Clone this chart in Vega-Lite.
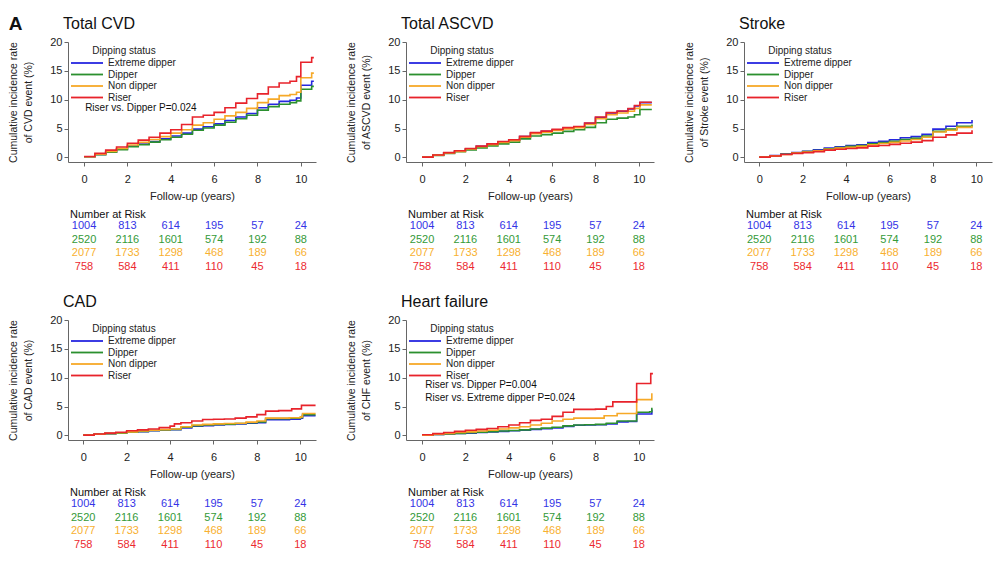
{
"$schema": "https://vega.github.io/schema/vega-lite/v6.json",
"padding": {"left": 8, "top": 15, "right": 2, "bottom": 2},
"title": {"text": "A", "fontSize": 19, "fontWeight": "bold", "anchor": "start", "frame": "bounds", "offset": -18, "dx": 0, "color": "#111"},
"bounds": "flush",
"columns": 3,
"spacing": {"row": 46, "column": 90},
"datasets": {
"curves": [
{"panel":"CVD","group":"Extreme dipper","t":0,"v":0.1},{"panel":"CVD","group":"Extreme dipper","t":0.5,"v":0.5},{"panel":"CVD","group":"Extreme dipper","t":1,"v":0.95},{"panel":"CVD","group":"Extreme dipper","t":1.5,"v":1.4},{"panel":"CVD","group":"Extreme dipper","t":2,"v":1.95},{"panel":"CVD","group":"Extreme dipper","t":2.5,"v":2.3},{"panel":"CVD","group":"Extreme dipper","t":3,"v":2.75},{"panel":"CVD","group":"Extreme dipper","t":3.5,"v":3.2},{"panel":"CVD","group":"Extreme dipper","t":4,"v":3.7},{"panel":"CVD","group":"Extreme dipper","t":4.5,"v":4.2},{"panel":"CVD","group":"Extreme dipper","t":5,"v":4.9},{"panel":"CVD","group":"Extreme dipper","t":5.5,"v":5.3},{"panel":"CVD","group":"Extreme dipper","t":6,"v":5.8},{"panel":"CVD","group":"Extreme dipper","t":6.5,"v":6.4},{"panel":"CVD","group":"Extreme dipper","t":7,"v":7.0},{"panel":"CVD","group":"Extreme dipper","t":7.5,"v":7.6},{"panel":"CVD","group":"Extreme dipper","t":8,"v":8.6},{"panel":"CVD","group":"Extreme dipper","t":8.5,"v":9.2},{"panel":"CVD","group":"Extreme dipper","t":9,"v":9.7},{"panel":"CVD","group":"Extreme dipper","t":9.5,"v":9.9},{"panel":"CVD","group":"Extreme dipper","t":9.8,"v":10.3},{"panel":"CVD","group":"Extreme dipper","t":10,"v":12.5},{"panel":"CVD","group":"Extreme dipper","t":10.5,"v":13.2},{"panel":"CVD","group":"Extreme dipper","t":10.6,"v":13.2},
{"panel":"CVD","group":"Dipper","t":0,"v":0.1},{"panel":"CVD","group":"Dipper","t":0.5,"v":0.45},{"panel":"CVD","group":"Dipper","t":1,"v":0.9},{"panel":"CVD","group":"Dipper","t":1.5,"v":1.35},{"panel":"CVD","group":"Dipper","t":2,"v":1.85},{"panel":"CVD","group":"Dipper","t":2.5,"v":2.2},{"panel":"CVD","group":"Dipper","t":3,"v":2.65},{"panel":"CVD","group":"Dipper","t":3.5,"v":3.05},{"panel":"CVD","group":"Dipper","t":4,"v":3.5},{"panel":"CVD","group":"Dipper","t":4.5,"v":4.0},{"panel":"CVD","group":"Dipper","t":5,"v":4.7},{"panel":"CVD","group":"Dipper","t":5.5,"v":5.1},{"panel":"CVD","group":"Dipper","t":6,"v":5.6},{"panel":"CVD","group":"Dipper","t":6.5,"v":6.1},{"panel":"CVD","group":"Dipper","t":7,"v":6.7},{"panel":"CVD","group":"Dipper","t":7.5,"v":7.3},{"panel":"CVD","group":"Dipper","t":8,"v":8.2},{"panel":"CVD","group":"Dipper","t":8.5,"v":8.8},{"panel":"CVD","group":"Dipper","t":9,"v":9.2},{"panel":"CVD","group":"Dipper","t":9.5,"v":9.5},{"panel":"CVD","group":"Dipper","t":9.8,"v":9.8},{"panel":"CVD","group":"Dipper","t":10,"v":11.8},{"panel":"CVD","group":"Dipper","t":10.5,"v":12.3},{"panel":"CVD","group":"Dipper","t":10.6,"v":12.3},
{"panel":"CVD","group":"Non dipper","t":0,"v":0.1},{"panel":"CVD","group":"Non dipper","t":0.5,"v":0.55},{"panel":"CVD","group":"Non dipper","t":1,"v":1.05},{"panel":"CVD","group":"Non dipper","t":1.5,"v":1.55},{"panel":"CVD","group":"Non dipper","t":2,"v":2.15},{"panel":"CVD","group":"Non dipper","t":2.5,"v":2.6},{"panel":"CVD","group":"Non dipper","t":3,"v":3.1},{"panel":"CVD","group":"Non dipper","t":3.5,"v":3.6},{"panel":"CVD","group":"Non dipper","t":4,"v":4.2},{"panel":"CVD","group":"Non dipper","t":4.5,"v":4.8},{"panel":"CVD","group":"Non dipper","t":5,"v":5.6},{"panel":"CVD","group":"Non dipper","t":5.5,"v":6.0},{"panel":"CVD","group":"Non dipper","t":6,"v":6.6},{"panel":"CVD","group":"Non dipper","t":6.5,"v":7.2},{"panel":"CVD","group":"Non dipper","t":7,"v":7.8},{"panel":"CVD","group":"Non dipper","t":7.5,"v":8.5},{"panel":"CVD","group":"Non dipper","t":8,"v":9.5},{"panel":"CVD","group":"Non dipper","t":8.5,"v":10.1},{"panel":"CVD","group":"Non dipper","t":9,"v":10.7},{"panel":"CVD","group":"Non dipper","t":9.5,"v":10.9},{"panel":"CVD","group":"Non dipper","t":9.8,"v":11.3},{"panel":"CVD","group":"Non dipper","t":10,"v":13.8},{"panel":"CVD","group":"Non dipper","t":10.5,"v":14.6},{"panel":"CVD","group":"Non dipper","t":10.6,"v":14.6},
{"panel":"CVD","group":"Riser","t":0,"v":0.15},{"panel":"CVD","group":"Riser","t":0.5,"v":0.7},{"panel":"CVD","group":"Riser","t":1,"v":1.25},{"panel":"CVD","group":"Riser","t":1.5,"v":1.8},{"panel":"CVD","group":"Riser","t":2,"v":2.45},{"panel":"CVD","group":"Riser","t":2.5,"v":3.0},{"panel":"CVD","group":"Riser","t":3,"v":3.5},{"panel":"CVD","group":"Riser","t":3.5,"v":4.2},{"panel":"CVD","group":"Riser","t":4,"v":4.8},{"panel":"CVD","group":"Riser","t":4.5,"v":5.7},{"panel":"CVD","group":"Riser","t":5,"v":7.0},{"panel":"CVD","group":"Riser","t":5.5,"v":7.3},{"panel":"CVD","group":"Riser","t":6,"v":7.8},{"panel":"CVD","group":"Riser","t":6.5,"v":8.6},{"panel":"CVD","group":"Riser","t":7,"v":9.4},{"panel":"CVD","group":"Riser","t":7.5,"v":10.2},{"panel":"CVD","group":"Riser","t":8,"v":11.0},{"panel":"CVD","group":"Riser","t":8.5,"v":12.2},{"panel":"CVD","group":"Riser","t":9,"v":12.9},{"panel":"CVD","group":"Riser","t":9.5,"v":13.2},{"panel":"CVD","group":"Riser","t":9.8,"v":14.0},{"panel":"CVD","group":"Riser","t":10,"v":16.5},{"panel":"CVD","group":"Riser","t":10.5,"v":17.3},{"panel":"CVD","group":"Riser","t":10.6,"v":17.3},
{"panel":"ASCVD","group":"Extreme dipper","t":0,"v":0.05},{"panel":"ASCVD","group":"Extreme dipper","t":0.5,"v":0.4},{"panel":"ASCVD","group":"Extreme dipper","t":1,"v":0.8},{"panel":"ASCVD","group":"Extreme dipper","t":1.5,"v":1.1},{"panel":"ASCVD","group":"Extreme dipper","t":2,"v":1.5},{"panel":"ASCVD","group":"Extreme dipper","t":2.5,"v":1.9},{"panel":"ASCVD","group":"Extreme dipper","t":3,"v":2.3},{"panel":"ASCVD","group":"Extreme dipper","t":3.5,"v":2.7},{"panel":"ASCVD","group":"Extreme dipper","t":4,"v":3.0},{"panel":"ASCVD","group":"Extreme dipper","t":4.5,"v":3.6},{"panel":"ASCVD","group":"Extreme dipper","t":5,"v":4.2},{"panel":"ASCVD","group":"Extreme dipper","t":5.5,"v":4.5},{"panel":"ASCVD","group":"Extreme dipper","t":6,"v":4.8},{"panel":"ASCVD","group":"Extreme dipper","t":6.5,"v":5.1},{"panel":"ASCVD","group":"Extreme dipper","t":7,"v":5.3},{"panel":"ASCVD","group":"Extreme dipper","t":7.5,"v":5.9},{"panel":"ASCVD","group":"Extreme dipper","t":8,"v":6.9},{"panel":"ASCVD","group":"Extreme dipper","t":8.5,"v":7.7},{"panel":"ASCVD","group":"Extreme dipper","t":9,"v":8.0},{"panel":"ASCVD","group":"Extreme dipper","t":9.5,"v":8.4},{"panel":"ASCVD","group":"Extreme dipper","t":9.8,"v":8.9},{"panel":"ASCVD","group":"Extreme dipper","t":10.05,"v":9.5},{"panel":"ASCVD","group":"Extreme dipper","t":10.6,"v":9.5},
{"panel":"ASCVD","group":"Dipper","t":0,"v":0.05},{"panel":"ASCVD","group":"Dipper","t":0.5,"v":0.35},{"panel":"ASCVD","group":"Dipper","t":1,"v":0.7},{"panel":"ASCVD","group":"Dipper","t":1.5,"v":1.0},{"panel":"ASCVD","group":"Dipper","t":2,"v":1.3},{"panel":"ASCVD","group":"Dipper","t":2.5,"v":1.65},{"panel":"ASCVD","group":"Dipper","t":3,"v":2.0},{"panel":"ASCVD","group":"Dipper","t":3.5,"v":2.35},{"panel":"ASCVD","group":"Dipper","t":4,"v":2.65},{"panel":"ASCVD","group":"Dipper","t":4.5,"v":3.2},{"panel":"ASCVD","group":"Dipper","t":5,"v":3.7},{"panel":"ASCVD","group":"Dipper","t":5.5,"v":3.95},{"panel":"ASCVD","group":"Dipper","t":6,"v":4.2},{"panel":"ASCVD","group":"Dipper","t":6.5,"v":4.5},{"panel":"ASCVD","group":"Dipper","t":7,"v":4.8},{"panel":"ASCVD","group":"Dipper","t":7.5,"v":5.2},{"panel":"ASCVD","group":"Dipper","t":8,"v":6.0},{"panel":"ASCVD","group":"Dipper","t":8.5,"v":6.6},{"panel":"ASCVD","group":"Dipper","t":9,"v":6.8},{"panel":"ASCVD","group":"Dipper","t":9.5,"v":7.0},{"panel":"ASCVD","group":"Dipper","t":9.8,"v":7.4},{"panel":"ASCVD","group":"Dipper","t":10.05,"v":8.3},{"panel":"ASCVD","group":"Dipper","t":10.6,"v":8.3},
{"panel":"ASCVD","group":"Non dipper","t":0,"v":0.05},{"panel":"ASCVD","group":"Non dipper","t":0.5,"v":0.4},{"panel":"ASCVD","group":"Non dipper","t":1,"v":0.75},{"panel":"ASCVD","group":"Non dipper","t":1.5,"v":1.05},{"panel":"ASCVD","group":"Non dipper","t":2,"v":1.45},{"panel":"ASCVD","group":"Non dipper","t":2.5,"v":1.85},{"panel":"ASCVD","group":"Non dipper","t":3,"v":2.2},{"panel":"ASCVD","group":"Non dipper","t":3.5,"v":2.6},{"panel":"ASCVD","group":"Non dipper","t":4,"v":2.9},{"panel":"ASCVD","group":"Non dipper","t":4.5,"v":3.5},{"panel":"ASCVD","group":"Non dipper","t":5,"v":4.1},{"panel":"ASCVD","group":"Non dipper","t":5.5,"v":4.35},{"panel":"ASCVD","group":"Non dipper","t":6,"v":4.65},{"panel":"ASCVD","group":"Non dipper","t":6.5,"v":4.95},{"panel":"ASCVD","group":"Non dipper","t":7,"v":5.15},{"panel":"ASCVD","group":"Non dipper","t":7.5,"v":5.7},{"panel":"ASCVD","group":"Non dipper","t":8,"v":6.7},{"panel":"ASCVD","group":"Non dipper","t":8.5,"v":7.4},{"panel":"ASCVD","group":"Non dipper","t":9,"v":7.7},{"panel":"ASCVD","group":"Non dipper","t":9.5,"v":8.0},{"panel":"ASCVD","group":"Non dipper","t":9.8,"v":8.5},{"panel":"ASCVD","group":"Non dipper","t":10.05,"v":9.1},{"panel":"ASCVD","group":"Non dipper","t":10.6,"v":9.1},
{"panel":"ASCVD","group":"Riser","t":0,"v":0.05},{"panel":"ASCVD","group":"Riser","t":0.5,"v":0.42},{"panel":"ASCVD","group":"Riser","t":1,"v":0.82},{"panel":"ASCVD","group":"Riser","t":1.5,"v":1.15},{"panel":"ASCVD","group":"Riser","t":2,"v":1.55},{"panel":"ASCVD","group":"Riser","t":2.5,"v":1.95},{"panel":"ASCVD","group":"Riser","t":3,"v":2.35},{"panel":"ASCVD","group":"Riser","t":3.5,"v":2.75},{"panel":"ASCVD","group":"Riser","t":4,"v":3.05},{"panel":"ASCVD","group":"Riser","t":4.5,"v":3.65},{"panel":"ASCVD","group":"Riser","t":5,"v":4.3},{"panel":"ASCVD","group":"Riser","t":5.5,"v":4.55},{"panel":"ASCVD","group":"Riser","t":6,"v":4.85},{"panel":"ASCVD","group":"Riser","t":6.5,"v":5.15},{"panel":"ASCVD","group":"Riser","t":7,"v":5.35},{"panel":"ASCVD","group":"Riser","t":7.5,"v":5.95},{"panel":"ASCVD","group":"Riser","t":8,"v":7.0},{"panel":"ASCVD","group":"Riser","t":8.5,"v":7.75},{"panel":"ASCVD","group":"Riser","t":9,"v":8.05},{"panel":"ASCVD","group":"Riser","t":9.5,"v":8.45},{"panel":"ASCVD","group":"Riser","t":9.8,"v":9.0},{"panel":"ASCVD","group":"Riser","t":10.05,"v":9.55},{"panel":"ASCVD","group":"Riser","t":10.6,"v":9.55},
{"panel":"Stroke","group":"Extreme dipper","t":0,"v":0.05},{"panel":"Stroke","group":"Extreme dipper","t":0.5,"v":0.3},{"panel":"Stroke","group":"Extreme dipper","t":1,"v":0.6},{"panel":"Stroke","group":"Extreme dipper","t":1.5,"v":0.85},{"panel":"Stroke","group":"Extreme dipper","t":2,"v":1.05},{"panel":"Stroke","group":"Extreme dipper","t":2.5,"v":1.3},{"panel":"Stroke","group":"Extreme dipper","t":3,"v":1.6},{"panel":"Stroke","group":"Extreme dipper","t":3.5,"v":1.85},{"panel":"Stroke","group":"Extreme dipper","t":4,"v":2.05},{"panel":"Stroke","group":"Extreme dipper","t":4.5,"v":2.2},{"panel":"Stroke","group":"Extreme dipper","t":5,"v":2.55},{"panel":"Stroke","group":"Extreme dipper","t":5.5,"v":2.8},{"panel":"Stroke","group":"Extreme dipper","t":6,"v":3.05},{"panel":"Stroke","group":"Extreme dipper","t":6.5,"v":3.4},{"panel":"Stroke","group":"Extreme dipper","t":7,"v":3.6},{"panel":"Stroke","group":"Extreme dipper","t":7.5,"v":4.0},{"panel":"Stroke","group":"Extreme dipper","t":8,"v":4.9},{"panel":"Stroke","group":"Extreme dipper","t":8.6,"v":5.4},{"panel":"Stroke","group":"Extreme dipper","t":9.1,"v":6.0},{"panel":"Stroke","group":"Extreme dipper","t":9.8,"v":6.5},
{"panel":"Stroke","group":"Dipper","t":0,"v":0.05},{"panel":"Stroke","group":"Dipper","t":0.5,"v":0.28},{"panel":"Stroke","group":"Dipper","t":1,"v":0.55},{"panel":"Stroke","group":"Dipper","t":1.5,"v":0.8},{"panel":"Stroke","group":"Dipper","t":2,"v":1.0},{"panel":"Stroke","group":"Dipper","t":2.5,"v":1.2},{"panel":"Stroke","group":"Dipper","t":3,"v":1.5},{"panel":"Stroke","group":"Dipper","t":3.5,"v":1.7},{"panel":"Stroke","group":"Dipper","t":4,"v":1.9},{"panel":"Stroke","group":"Dipper","t":4.5,"v":2.05},{"panel":"Stroke","group":"Dipper","t":5,"v":2.35},{"panel":"Stroke","group":"Dipper","t":5.5,"v":2.55},{"panel":"Stroke","group":"Dipper","t":6,"v":2.8},{"panel":"Stroke","group":"Dipper","t":6.5,"v":3.1},{"panel":"Stroke","group":"Dipper","t":7,"v":3.3},{"panel":"Stroke","group":"Dipper","t":7.5,"v":3.7},{"panel":"Stroke","group":"Dipper","t":8,"v":4.5},{"panel":"Stroke","group":"Dipper","t":8.6,"v":4.9},{"panel":"Stroke","group":"Dipper","t":9.1,"v":5.4},{"panel":"Stroke","group":"Dipper","t":9.8,"v":5.7},
{"panel":"Stroke","group":"Non dipper","t":0,"v":0.05},{"panel":"Stroke","group":"Non dipper","t":0.5,"v":0.27},{"panel":"Stroke","group":"Non dipper","t":1,"v":0.5},{"panel":"Stroke","group":"Non dipper","t":1.5,"v":0.75},{"panel":"Stroke","group":"Non dipper","t":2,"v":0.92},{"panel":"Stroke","group":"Non dipper","t":2.5,"v":1.12},{"panel":"Stroke","group":"Non dipper","t":3,"v":1.4},{"panel":"Stroke","group":"Non dipper","t":3.5,"v":1.6},{"panel":"Stroke","group":"Non dipper","t":4,"v":1.75},{"panel":"Stroke","group":"Non dipper","t":4.5,"v":1.9},{"panel":"Stroke","group":"Non dipper","t":5,"v":2.2},{"panel":"Stroke","group":"Non dipper","t":5.5,"v":2.4},{"panel":"Stroke","group":"Non dipper","t":6,"v":2.6},{"panel":"Stroke","group":"Non dipper","t":6.5,"v":2.85},{"panel":"Stroke","group":"Non dipper","t":7,"v":3.1},{"panel":"Stroke","group":"Non dipper","t":7.5,"v":3.5},{"panel":"Stroke","group":"Non dipper","t":8,"v":4.4},{"panel":"Stroke","group":"Non dipper","t":8.6,"v":4.7},{"panel":"Stroke","group":"Non dipper","t":9.1,"v":5.2},{"panel":"Stroke","group":"Non dipper","t":9.8,"v":5.5},
{"panel":"Stroke","group":"Riser","t":0,"v":0.05},{"panel":"Stroke","group":"Riser","t":0.5,"v":0.25},{"panel":"Stroke","group":"Riser","t":1,"v":0.5},{"panel":"Stroke","group":"Riser","t":1.5,"v":0.7},{"panel":"Stroke","group":"Riser","t":2,"v":0.82},{"panel":"Stroke","group":"Riser","t":2.5,"v":1.0},{"panel":"Stroke","group":"Riser","t":3,"v":1.25},{"panel":"Stroke","group":"Riser","t":3.5,"v":1.4},{"panel":"Stroke","group":"Riser","t":4,"v":1.55},{"panel":"Stroke","group":"Riser","t":4.5,"v":1.65},{"panel":"Stroke","group":"Riser","t":5,"v":1.95},{"panel":"Stroke","group":"Riser","t":5.5,"v":2.05},{"panel":"Stroke","group":"Riser","t":6,"v":2.25},{"panel":"Stroke","group":"Riser","t":6.5,"v":2.45},{"panel":"Stroke","group":"Riser","t":7,"v":2.65},{"panel":"Stroke","group":"Riser","t":7.5,"v":2.9},{"panel":"Stroke","group":"Riser","t":8,"v":3.5},{"panel":"Stroke","group":"Riser","t":8.6,"v":3.9},{"panel":"Stroke","group":"Riser","t":9.1,"v":4.2},{"panel":"Stroke","group":"Riser","t":9.8,"v":4.7},
{"panel":"CAD","group":"Extreme dipper","t":0,"v":0.05},{"panel":"CAD","group":"Extreme dipper","t":0.5,"v":0.2},{"panel":"CAD","group":"Extreme dipper","t":1,"v":0.3},{"panel":"CAD","group":"Extreme dipper","t":1.5,"v":0.4},{"panel":"CAD","group":"Extreme dipper","t":2,"v":0.55},{"panel":"CAD","group":"Extreme dipper","t":2.5,"v":0.65},{"panel":"CAD","group":"Extreme dipper","t":3,"v":0.8},{"panel":"CAD","group":"Extreme dipper","t":3.5,"v":0.9},{"panel":"CAD","group":"Extreme dipper","t":4,"v":1.0},{"panel":"CAD","group":"Extreme dipper","t":4.5,"v":1.3},{"panel":"CAD","group":"Extreme dipper","t":5,"v":1.6},{"panel":"CAD","group":"Extreme dipper","t":5.5,"v":1.7},{"panel":"CAD","group":"Extreme dipper","t":6,"v":1.8},{"panel":"CAD","group":"Extreme dipper","t":6.5,"v":1.9},{"panel":"CAD","group":"Extreme dipper","t":7,"v":2.0},{"panel":"CAD","group":"Extreme dipper","t":7.5,"v":2.1},{"panel":"CAD","group":"Extreme dipper","t":8,"v":2.2},{"panel":"CAD","group":"Extreme dipper","t":8.4,"v":2.7},{"panel":"CAD","group":"Extreme dipper","t":9,"v":2.7},{"panel":"CAD","group":"Extreme dipper","t":9.5,"v":2.8},{"panel":"CAD","group":"Extreme dipper","t":10,"v":3.0},{"panel":"CAD","group":"Extreme dipper","t":10.1,"v":3.4},{"panel":"CAD","group":"Extreme dipper","t":10.7,"v":3.4},
{"panel":"CAD","group":"Dipper","t":0,"v":0.05},{"panel":"CAD","group":"Dipper","t":0.5,"v":0.2},{"panel":"CAD","group":"Dipper","t":1,"v":0.3},{"panel":"CAD","group":"Dipper","t":1.5,"v":0.4},{"panel":"CAD","group":"Dipper","t":2,"v":0.55},{"panel":"CAD","group":"Dipper","t":2.5,"v":0.7},{"panel":"CAD","group":"Dipper","t":3,"v":0.85},{"panel":"CAD","group":"Dipper","t":3.5,"v":0.95},{"panel":"CAD","group":"Dipper","t":4,"v":1.05},{"panel":"CAD","group":"Dipper","t":4.5,"v":1.4},{"panel":"CAD","group":"Dipper","t":5,"v":1.7},{"panel":"CAD","group":"Dipper","t":5.5,"v":1.8},{"panel":"CAD","group":"Dipper","t":6,"v":1.9},{"panel":"CAD","group":"Dipper","t":6.5,"v":1.95},{"panel":"CAD","group":"Dipper","t":7,"v":2.05},{"panel":"CAD","group":"Dipper","t":7.5,"v":2.2},{"panel":"CAD","group":"Dipper","t":8,"v":2.35},{"panel":"CAD","group":"Dipper","t":8.4,"v":2.9},{"panel":"CAD","group":"Dipper","t":9,"v":2.9},{"panel":"CAD","group":"Dipper","t":9.5,"v":3.0},{"panel":"CAD","group":"Dipper","t":10,"v":3.1},{"panel":"CAD","group":"Dipper","t":10.1,"v":3.6},{"panel":"CAD","group":"Dipper","t":10.7,"v":3.6},
{"panel":"CAD","group":"Non dipper","t":0,"v":0.05},{"panel":"CAD","group":"Non dipper","t":0.5,"v":0.2},{"panel":"CAD","group":"Non dipper","t":1,"v":0.35},{"panel":"CAD","group":"Non dipper","t":1.5,"v":0.45},{"panel":"CAD","group":"Non dipper","t":2,"v":0.6},{"panel":"CAD","group":"Non dipper","t":2.5,"v":0.75},{"panel":"CAD","group":"Non dipper","t":3,"v":0.9},{"panel":"CAD","group":"Non dipper","t":3.5,"v":1.0},{"panel":"CAD","group":"Non dipper","t":4,"v":1.1},{"panel":"CAD","group":"Non dipper","t":4.5,"v":1.5},{"panel":"CAD","group":"Non dipper","t":5,"v":1.8},{"panel":"CAD","group":"Non dipper","t":5.5,"v":1.9},{"panel":"CAD","group":"Non dipper","t":6,"v":2.0},{"panel":"CAD","group":"Non dipper","t":6.5,"v":2.05},{"panel":"CAD","group":"Non dipper","t":7,"v":2.1},{"panel":"CAD","group":"Non dipper","t":7.5,"v":2.3},{"panel":"CAD","group":"Non dipper","t":8,"v":2.5},{"panel":"CAD","group":"Non dipper","t":8.4,"v":3.0},{"panel":"CAD","group":"Non dipper","t":9,"v":3.0},{"panel":"CAD","group":"Non dipper","t":9.5,"v":3.05},{"panel":"CAD","group":"Non dipper","t":10,"v":3.2},{"panel":"CAD","group":"Non dipper","t":10.1,"v":3.8},{"panel":"CAD","group":"Non dipper","t":10.7,"v":3.8},
{"panel":"CAD","group":"Riser","t":0,"v":0.05},{"panel":"CAD","group":"Riser","t":0.5,"v":0.25},{"panel":"CAD","group":"Riser","t":1,"v":0.4},{"panel":"CAD","group":"Riser","t":1.5,"v":0.55},{"panel":"CAD","group":"Riser","t":2,"v":0.8},{"panel":"CAD","group":"Riser","t":2.5,"v":0.95},{"panel":"CAD","group":"Riser","t":3,"v":1.1},{"panel":"CAD","group":"Riser","t":3.5,"v":1.35},{"panel":"CAD","group":"Riser","t":4,"v":1.6},{"panel":"CAD","group":"Riser","t":4.2,"v":2.0},{"panel":"CAD","group":"Riser","t":4.5,"v":2.2},{"panel":"CAD","group":"Riser","t":5,"v":2.5},{"panel":"CAD","group":"Riser","t":5.5,"v":2.75},{"panel":"CAD","group":"Riser","t":6,"v":2.8},{"panel":"CAD","group":"Riser","t":6.5,"v":2.85},{"panel":"CAD","group":"Riser","t":7,"v":3.0},{"panel":"CAD","group":"Riser","t":7.5,"v":3.2},{"panel":"CAD","group":"Riser","t":8,"v":3.6},{"panel":"CAD","group":"Riser","t":8.4,"v":4.2},{"panel":"CAD","group":"Riser","t":9,"v":4.3},{"panel":"CAD","group":"Riser","t":9.6,"v":4.6},{"panel":"CAD","group":"Riser","t":10.05,"v":5.2},{"panel":"CAD","group":"Riser","t":10.7,"v":5.2},
{"panel":"HF","group":"Extreme dipper","t":0,"v":0.05},{"panel":"HF","group":"Extreme dipper","t":0.5,"v":0.15},{"panel":"HF","group":"Extreme dipper","t":1,"v":0.25},{"panel":"HF","group":"Extreme dipper","t":1.5,"v":0.35},{"panel":"HF","group":"Extreme dipper","t":2,"v":0.4},{"panel":"HF","group":"Extreme dipper","t":2.5,"v":0.5},{"panel":"HF","group":"Extreme dipper","t":3,"v":0.6},{"panel":"HF","group":"Extreme dipper","t":3.5,"v":0.7},{"panel":"HF","group":"Extreme dipper","t":4,"v":0.8},{"panel":"HF","group":"Extreme dipper","t":4.5,"v":0.9},{"panel":"HF","group":"Extreme dipper","t":5,"v":1.05},{"panel":"HF","group":"Extreme dipper","t":5.5,"v":1.15},{"panel":"HF","group":"Extreme dipper","t":6,"v":1.3},{"panel":"HF","group":"Extreme dipper","t":6.5,"v":1.55},{"panel":"HF","group":"Extreme dipper","t":7,"v":1.75},{"panel":"HF","group":"Extreme dipper","t":7.5,"v":1.8},{"panel":"HF","group":"Extreme dipper","t":8,"v":1.85},{"panel":"HF","group":"Extreme dipper","t":8.5,"v":2.0},{"panel":"HF","group":"Extreme dipper","t":9,"v":2.35},{"panel":"HF","group":"Extreme dipper","t":9.5,"v":2.4},{"panel":"HF","group":"Extreme dipper","t":9.9,"v":3.7},{"panel":"HF","group":"Extreme dipper","t":10.5,"v":3.7},{"panel":"HF","group":"Extreme dipper","t":10.6,"v":4.5},
{"panel":"HF","group":"Dipper","t":0,"v":0.05},{"panel":"HF","group":"Dipper","t":0.5,"v":0.15},{"panel":"HF","group":"Dipper","t":1,"v":0.25},{"panel":"HF","group":"Dipper","t":1.5,"v":0.35},{"panel":"HF","group":"Dipper","t":2,"v":0.45},{"panel":"HF","group":"Dipper","t":2.5,"v":0.55},{"panel":"HF","group":"Dipper","t":3,"v":0.65},{"panel":"HF","group":"Dipper","t":3.5,"v":0.75},{"panel":"HF","group":"Dipper","t":4,"v":0.85},{"panel":"HF","group":"Dipper","t":4.5,"v":0.95},{"panel":"HF","group":"Dipper","t":5,"v":1.1},{"panel":"HF","group":"Dipper","t":5.5,"v":1.25},{"panel":"HF","group":"Dipper","t":6,"v":1.4},{"panel":"HF","group":"Dipper","t":6.5,"v":1.65},{"panel":"HF","group":"Dipper","t":7,"v":1.8},{"panel":"HF","group":"Dipper","t":7.5,"v":1.85},{"panel":"HF","group":"Dipper","t":8,"v":1.9},{"panel":"HF","group":"Dipper","t":8.5,"v":2.1},{"panel":"HF","group":"Dipper","t":9,"v":2.5},{"panel":"HF","group":"Dipper","t":9.5,"v":2.5},{"panel":"HF","group":"Dipper","t":9.9,"v":4.0},{"panel":"HF","group":"Dipper","t":10.5,"v":4.1},{"panel":"HF","group":"Dipper","t":10.6,"v":4.8},
{"panel":"HF","group":"Non dipper","t":0,"v":0.05},{"panel":"HF","group":"Non dipper","t":0.5,"v":0.2},{"panel":"HF","group":"Non dipper","t":1,"v":0.35},{"panel":"HF","group":"Non dipper","t":1.5,"v":0.5},{"panel":"HF","group":"Non dipper","t":2,"v":0.6},{"panel":"HF","group":"Non dipper","t":2.5,"v":0.75},{"panel":"HF","group":"Non dipper","t":3,"v":0.9},{"panel":"HF","group":"Non dipper","t":3.5,"v":1.1},{"panel":"HF","group":"Non dipper","t":4,"v":1.3},{"panel":"HF","group":"Non dipper","t":4.5,"v":1.5},{"panel":"HF","group":"Non dipper","t":5,"v":1.8},{"panel":"HF","group":"Non dipper","t":5.5,"v":2.1},{"panel":"HF","group":"Non dipper","t":6,"v":2.5},{"panel":"HF","group":"Non dipper","t":6.5,"v":2.8},{"panel":"HF","group":"Non dipper","t":7,"v":3.0},{"panel":"HF","group":"Non dipper","t":7.5,"v":3.0},{"panel":"HF","group":"Non dipper","t":8,"v":3.0},{"panel":"HF","group":"Non dipper","t":8.4,"v":3.4},{"panel":"HF","group":"Non dipper","t":9,"v":3.8},{"panel":"HF","group":"Non dipper","t":9.5,"v":3.8},{"panel":"HF","group":"Non dipper","t":9.9,"v":6.2},{"panel":"HF","group":"Non dipper","t":10.5,"v":6.2},{"panel":"HF","group":"Non dipper","t":10.6,"v":7.3},
{"panel":"HF","group":"Riser","t":0,"v":0.1},{"panel":"HF","group":"Riser","t":0.5,"v":0.3},{"panel":"HF","group":"Riser","t":1,"v":0.5},{"panel":"HF","group":"Riser","t":1.5,"v":0.7},{"panel":"HF","group":"Riser","t":2,"v":0.9},{"panel":"HF","group":"Riser","t":2.5,"v":1.05},{"panel":"HF","group":"Riser","t":3,"v":1.2},{"panel":"HF","group":"Riser","t":3.5,"v":1.5},{"panel":"HF","group":"Riser","t":4,"v":1.8},{"panel":"HF","group":"Riser","t":4.5,"v":2.2},{"panel":"HF","group":"Riser","t":5,"v":2.6},{"panel":"HF","group":"Riser","t":5.5,"v":2.8},{"panel":"HF","group":"Riser","t":6,"v":3.3},{"panel":"HF","group":"Riser","t":6.5,"v":4.0},{"panel":"HF","group":"Riser","t":7,"v":4.5},{"panel":"HF","group":"Riser","t":7.5,"v":4.5},{"panel":"HF","group":"Riser","t":8,"v":4.55},{"panel":"HF","group":"Riser","t":8.5,"v":5.0},{"panel":"HF","group":"Riser","t":8.8,"v":5.8},{"panel":"HF","group":"Riser","t":9.5,"v":5.8},{"panel":"HF","group":"Riser","t":9.9,"v":9.0},{"panel":"HF","group":"Riser","t":10.5,"v":9.0},{"panel":"HF","group":"Riser","t":10.55,"v":10.7},{"panel":"HF","group":"Riser","t":10.65,"v":10.7}
],
"risk": [
{"group":"Extreme dipper","t":0,"n":1004},{"group":"Extreme dipper","t":2,"n":813},{"group":"Extreme dipper","t":4,"n":614},{"group":"Extreme dipper","t":6,"n":195},{"group":"Extreme dipper","t":8,"n":57},{"group":"Extreme dipper","t":10,"n":24},
{"group":"Dipper","t":0,"n":2520},{"group":"Dipper","t":2,"n":2116},{"group":"Dipper","t":4,"n":1601},{"group":"Dipper","t":6,"n":574},{"group":"Dipper","t":8,"n":192},{"group":"Dipper","t":10,"n":88},
{"group":"Non dipper","t":0,"n":2077},{"group":"Non dipper","t":2,"n":1733},{"group":"Non dipper","t":4,"n":1298},{"group":"Non dipper","t":6,"n":468},{"group":"Non dipper","t":8,"n":189},{"group":"Non dipper","t":10,"n":66},
{"group":"Riser","t":0,"n":758},{"group":"Riser","t":2,"n":584},{"group":"Riser","t":4,"n":411},{"group":"Riser","t":6,"n":110},{"group":"Riser","t":8,"n":45},{"group":"Riser","t":10,"n":18}
],
"notes": [
{"panel":"CVD","t":0.05,"v":8.6,"label":"Riser vs. Dipper P=0.024"},
{"panel":"HF","t":0.15,"v":8.7,"label":"Riser vs. Dipper P=0.004"},
{"panel":"HF","t":0.15,"v":6.4,"label":"Riser vs. Extreme dipper P=0.024"}
]
},
"concat": [
  {"width": 248, "height": 120, "title": "Total CVD",
   "encoding": {
    "x": {"field": "t", "type": "quantitative", "scale": {"domain": [-0.74, 10.7], "nice": false, "zero": false}, "axis": {"values": [0,2,4,6,8,10], "title": "Follow-up (years)"}},
    "y": {"field": "v", "type": "quantitative", "scale": {"domain": [-0.8, 20], "nice": false, "zero": false}, "axis": {"values": [0,5,10,15,20], "title": ["Cumulative incidence rate", "of CVD event (%)"]}}
   },
   "layer": [
    {"data": {"name": "curves"}, "transform": [{"filter": "datum.panel === 'CVD'"}],
     "mark": {"type": "line", "interpolate": "step-after", "strokeWidth": 1.6},
     "encoding": {
      "color": {"field": "group", "type": "nominal", "scale": {"domain": ["Extreme dipper","Dipper","Non dipper","Riser"], "range": ["#2626e0","#2b902f","#f6a928","#e8232b"]}, "legend": {"orient": "none", "legendX": 5, "legendY": 4, "title": "Dipping status"}}
     }},
    {"data": {"name": "notes"}, "transform": [{"filter": "datum.panel === 'CVD'"}],
     "mark": {"type": "text", "align": "left", "fontSize": 10, "color": "#111"},
     "encoding": {"text": {"field": "label"}}}
   ]},
  {"width": 248, "height": 120, "title": "Total ASCVD",
   "data": {"name": "curves"}, "transform": [{"filter": "datum.panel === 'ASCVD'"}],
   "mark": {"type": "line", "interpolate": "step-after", "strokeWidth": 1.6},
   "encoding": {
    "x": {"field": "t", "type": "quantitative", "scale": {"domain": [-0.74, 10.7], "nice": false, "zero": false}, "axis": {"values": [0,2,4,6,8,10], "title": "Follow-up (years)"}},
    "y": {"field": "v", "type": "quantitative", "scale": {"domain": [-0.8, 20], "nice": false, "zero": false}, "axis": {"values": [0,5,10,15,20], "title": ["Cumulative incidence rate", "of ASCVD event (%)"]}},
    "color": {"field": "group", "type": "nominal", "scale": {"domain": ["Extreme dipper","Dipper","Non dipper","Riser"], "range": ["#2626e0","#2b902f","#f6a928","#e8232b"]}, "legend": {"orient": "none", "legendX": 5, "legendY": 4, "title": "Dipping status"}}
   }},
  {"width": 248, "height": 120, "title": "Stroke",
   "data": {"name": "curves"}, "transform": [{"filter": "datum.panel === 'Stroke'"}],
   "mark": {"type": "line", "interpolate": "step-after", "strokeWidth": 1.6},
   "encoding": {
    "x": {"field": "t", "type": "quantitative", "scale": {"domain": [-0.7, 10.72], "nice": false, "zero": false}, "axis": {"values": [0,2,4,6,8,10], "title": "Follow-up (years)"}},
    "y": {"field": "v", "type": "quantitative", "scale": {"domain": [-0.8, 20], "nice": false, "zero": false}, "axis": {"values": [0,5,10,15,20], "title": ["Cumulative incidence rate", "of Stroke event (%)"]}},
    "color": {"field": "group", "type": "nominal", "scale": {"domain": ["Extreme dipper","Dipper","Non dipper","Riser"], "range": ["#2626e0","#2b902f","#f6a928","#e8232b"]}, "legend": {"orient": "none", "legendX": 5, "legendY": 4, "title": "Dipping status"}}
   }},
  {"width": 248, "height": 66, "title": {"text": "Number at Risk", "fontSize": 11, "offset": -12, "dx": 2},
   "data": {"name": "risk"}, "mark": {"type": "text", "fontSize": 11},
   "encoding": {
    "x": {"field": "t", "type": "quantitative", "scale": {"domain": [-0.74, 10.7], "nice": false, "zero": false}, "axis": null},
    "y": {"field": "group", "type": "nominal", "scale": {"type": "point", "domain": ["Extreme dipper","Dipper","Non dipper","Riser"], "padding": 0.914, "align": 0.72}, "axis": null},
    "text": {"field": "n", "type": "quantitative"},
    "color": {"field": "group", "type": "nominal", "scale": {"domain": ["Extreme dipper","Dipper","Non dipper","Riser"], "range": ["#3434e6","#349a38","#f8b030","#ec2a30"]}, "legend": null}
   }},
  {"width": 248, "height": 66, "title": {"text": "Number at Risk", "fontSize": 11, "offset": -12, "dx": 2},
   "data": {"name": "risk"}, "mark": {"type": "text", "fontSize": 11},
   "encoding": {
    "x": {"field": "t", "type": "quantitative", "scale": {"domain": [-0.74, 10.7], "nice": false, "zero": false}, "axis": null},
    "y": {"field": "group", "type": "nominal", "scale": {"type": "point", "domain": ["Extreme dipper","Dipper","Non dipper","Riser"], "padding": 0.914, "align": 0.72}, "axis": null},
    "text": {"field": "n", "type": "quantitative"},
    "color": {"field": "group", "type": "nominal", "scale": {"domain": ["Extreme dipper","Dipper","Non dipper","Riser"], "range": ["#3434e6","#349a38","#f8b030","#ec2a30"]}, "legend": null}
   }},
  {"width": 248, "height": 66, "title": {"text": "Number at Risk", "fontSize": 11, "offset": -12, "dx": 2},
   "data": {"name": "risk"}, "mark": {"type": "text", "fontSize": 11},
   "encoding": {
    "x": {"field": "t", "type": "quantitative", "scale": {"domain": [-0.7, 10.72], "nice": false, "zero": false}, "axis": null},
    "y": {"field": "group", "type": "nominal", "scale": {"type": "point", "domain": ["Extreme dipper","Dipper","Non dipper","Riser"], "padding": 0.914, "align": 0.72}, "axis": null},
    "text": {"field": "n", "type": "quantitative"},
    "color": {"field": "group", "type": "nominal", "scale": {"domain": ["Extreme dipper","Dipper","Non dipper","Riser"], "range": ["#3434e6","#349a38","#f8b030","#ec2a30"]}, "legend": null}
   }},
  {"width": 248, "height": 120, "title": "CAD",
   "data": {"name": "curves"}, "transform": [{"filter": "datum.panel === 'CAD'"}],
   "mark": {"type": "line", "interpolate": "step-after", "strokeWidth": 1.6},
   "encoding": {
    "x": {"field": "t", "type": "quantitative", "scale": {"domain": [-0.7, 10.72], "nice": false, "zero": false}, "axis": {"values": [0,2,4,6,8,10], "title": "Follow-up (years)"}},
    "y": {"field": "v", "type": "quantitative", "scale": {"domain": [-0.8, 20], "nice": false, "zero": false}, "axis": {"values": [0,5,10,15,20], "title": ["Cumulative incidence rate", "of CAD event (%)"]}},
    "color": {"field": "group", "type": "nominal", "scale": {"domain": ["Extreme dipper","Dipper","Non dipper","Riser"], "range": ["#2626e0","#2b902f","#f6a928","#e8232b"]}, "legend": {"orient": "none", "legendX": 5, "legendY": 4, "title": "Dipping status"}}
   }},
  {"width": 248, "height": 120, "title": "Heart failure",
   "encoding": {
    "x": {"field": "t", "type": "quantitative", "scale": {"domain": [-0.74, 10.7], "nice": false, "zero": false}, "axis": {"values": [0,2,4,6,8,10], "title": "Follow-up (years)"}},
    "y": {"field": "v", "type": "quantitative", "scale": {"domain": [-0.8, 20], "nice": false, "zero": false}, "axis": {"values": [0,5,10,15,20], "title": ["Cumulative incidence rate", "of CHF event (%)"]}}
   },
   "layer": [
    {"data": {"name": "curves"}, "transform": [{"filter": "datum.panel === 'HF'"}],
     "mark": {"type": "line", "interpolate": "step-after", "strokeWidth": 1.6},
     "encoding": {
      "color": {"field": "group", "type": "nominal", "scale": {"domain": ["Extreme dipper","Dipper","Non dipper","Riser"], "range": ["#2626e0","#2b902f","#f6a928","#e8232b"]}, "legend": {"orient": "none", "legendX": 5, "legendY": 4, "title": "Dipping status"}}
     }},
    {"data": {"name": "notes"}, "transform": [{"filter": "datum.panel === 'HF'"}],
     "mark": {"type": "text", "align": "left", "fontSize": 10, "color": "#111"},
     "encoding": {"text": {"field": "label"}}}
   ]},
  {"width": 248, "height": 120, "data": {"values": []}, "mark": {"type": "point"}},
  {"width": 248, "height": 66, "title": {"text": "Number at Risk", "fontSize": 11, "offset": -12, "dx": 2},
   "data": {"name": "risk"}, "mark": {"type": "text", "fontSize": 11},
   "encoding": {
    "x": {"field": "t", "type": "quantitative", "scale": {"domain": [-0.7, 10.72], "nice": false, "zero": false}, "axis": null},
    "y": {"field": "group", "type": "nominal", "scale": {"type": "point", "domain": ["Extreme dipper","Dipper","Non dipper","Riser"], "padding": 0.914, "align": 0.72}, "axis": null},
    "text": {"field": "n", "type": "quantitative"},
    "color": {"field": "group", "type": "nominal", "scale": {"domain": ["Extreme dipper","Dipper","Non dipper","Riser"], "range": ["#3434e6","#349a38","#f8b030","#ec2a30"]}, "legend": null}
   }},
  {"width": 248, "height": 66, "title": {"text": "Number at Risk", "fontSize": 11, "offset": -12, "dx": 2},
   "data": {"name": "risk"}, "mark": {"type": "text", "fontSize": 11},
   "encoding": {
    "x": {"field": "t", "type": "quantitative", "scale": {"domain": [-0.74, 10.7], "nice": false, "zero": false}, "axis": null},
    "y": {"field": "group", "type": "nominal", "scale": {"type": "point", "domain": ["Extreme dipper","Dipper","Non dipper","Riser"], "padding": 0.914, "align": 0.72}, "axis": null},
    "text": {"field": "n", "type": "quantitative"},
    "color": {"field": "group", "type": "nominal", "scale": {"domain": ["Extreme dipper","Dipper","Non dipper","Riser"], "range": ["#3434e6","#349a38","#f8b030","#ec2a30"]}, "legend": null}
   }}
],
"resolve": {"scale": {"color": "independent"}, "legend": {"color": "independent"}},
"config": {
 "font": "Liberation Sans",
 "view": {"stroke": null},
 "background": "white",
 "title": {"fontSize": 16, "fontWeight": "normal", "anchor": "start", "frame": "group", "color": "#111", "offset": 4, "dx": -5, "font": "Liberation Sans"},
 "axis": {"grid": false, "domainColor": "#666", "tickColor": "#666", "labelColor": "#222", "titleColor": "#222", "labelFontSize": 11, "titleFontSize": 11, "titleFontWeight": "normal", "tickSize": 4, "labelFont": "Liberation Sans", "titleFont": "Liberation Sans", "labelOverlap": false},
 "axisY": {"titleFontSize": 10.5, "titleLineHeight": 15, "titlePadding": 16, "labelPadding": 2},
 "axisX": {"labelPadding": 7, "titlePadding": 6},
 "legend": {"titleFontSize": 10, "titleFontWeight": "normal", "titleColor": "#222", "titleAnchor": "middle", "labelFontSize": 10, "labelColor": "#222", "symbolType": "M-4,0H4", "symbolSize": 64, "symbolStrokeWidth": 1.8, "symbolOffset": 9, "labelOffset": 16, "rowPadding": 1.5, "titlePadding": 2, "padding": 0, "labelLimit": 200, "labelFont": "Liberation Sans", "titleFont": "Liberation Sans"}
}
}
